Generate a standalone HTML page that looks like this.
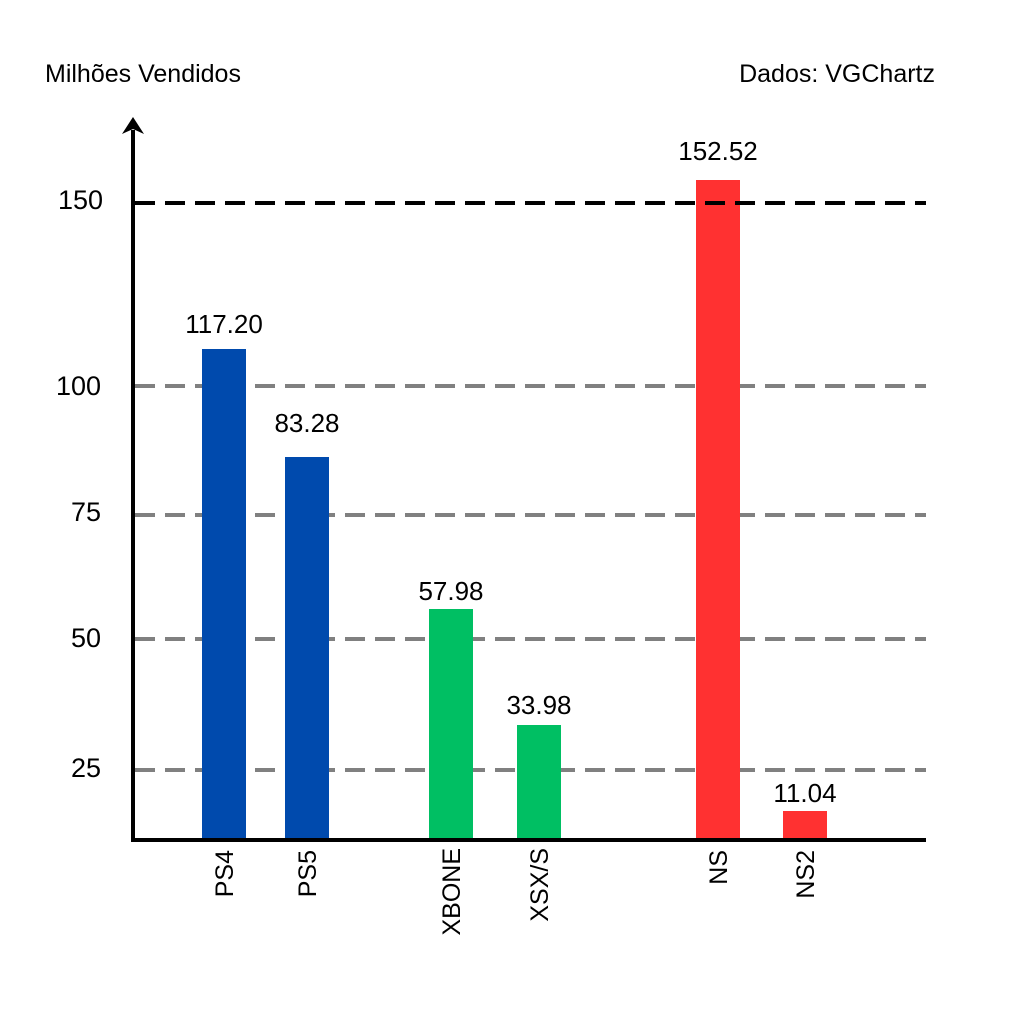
<!DOCTYPE html>
<html><head><meta charset="utf-8"><style>html,body{margin:0;padding:0;background:#fff}</style></head>
<body>
<svg width="1024" height="1024" xmlns="http://www.w3.org/2000/svg" font-family="Liberation Sans, sans-serif">
<rect width="1024" height="1024" fill="#fff"/>
<g stroke="#808080" stroke-width="4" stroke-dasharray="20,10">
<line x1="135" y1="386" x2="926" y2="386"/>
<line x1="135" y1="515" x2="926" y2="515"/>
<line x1="135" y1="639" x2="926" y2="639"/>
<line x1="135" y1="770" x2="926" y2="770"/>
</g>
<rect x="202" y="349" width="44" height="491" fill="#004aad"/>
<rect x="285" y="457" width="44" height="383" fill="#004aad"/>
<rect x="429" y="609" width="44" height="231" fill="#00bf63"/>
<rect x="517" y="725" width="44" height="115" fill="#00bf63"/>
<rect x="696" y="180" width="44" height="660" fill="#ff3131"/>
<rect x="783" y="811" width="44" height="29" fill="#ff3131"/>
<line x1="135" y1="203" x2="926" y2="203" stroke="#000" stroke-width="4" stroke-dasharray="20,10"/>
<line x1="133" y1="130" x2="133" y2="841" stroke="#000" stroke-width="4"/>
<line x1="131" y1="840" x2="926" y2="840" stroke="#000" stroke-width="4"/>
<polygon points="133,117 122,134 133,129 144,134" fill="#000"/>
<g font-size="27" fill="#000" text-anchor="end">
<text x="103" y="209">150</text>
<text x="101" y="395">100</text>
<text x="101" y="521">75</text>
<text x="101" y="647">50</text>
<text x="101" y="777">25</text>
</g>
<g font-size="26" fill="#000" text-anchor="middle">
<text x="224" y="333">117.20</text>
<text x="307" y="432">83.28</text>
<text x="451" y="600">57.98</text>
<text x="539" y="714">33.98</text>
<text x="718" y="160">152.52</text>
<text x="805" y="802">11.04</text>
</g>
<g font-size="25" fill="#000" text-anchor="end">
<text transform="translate(233,850) rotate(-90)">PS4</text>
<text transform="translate(316,850) rotate(-90)">PS5</text>
<text transform="translate(460,848) rotate(-90)">XBONE</text>
<text transform="translate(548,848) rotate(-90)">XSX/S</text>
<text transform="translate(727,850) rotate(-90)">NS</text>
<text transform="translate(814,850) rotate(-90)">NS2</text>
</g>
<text x="45" y="82" font-size="25" fill="#000">Milhões Vendidos</text>
<text x="935" y="82" font-size="25" fill="#000" text-anchor="end">Dados: VGChartz</text>
</svg>
</body></html>
